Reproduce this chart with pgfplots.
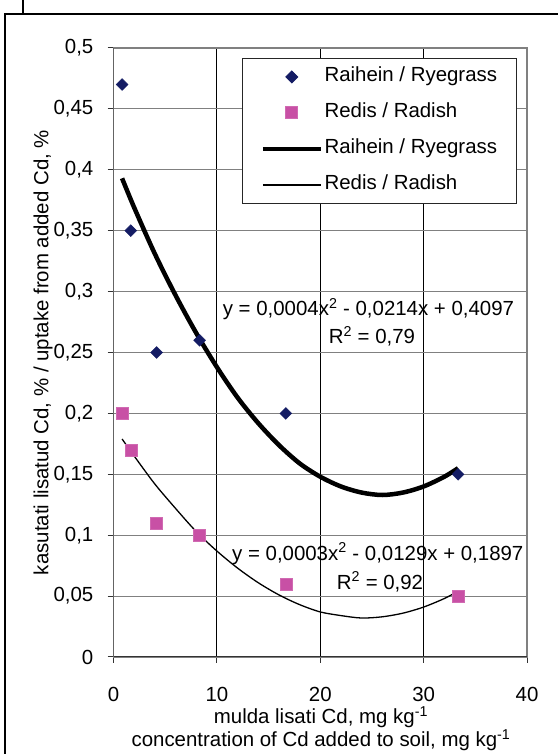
\documentclass[border=0pt]{standalone}
\usepackage{fontspec}
\setmainfont{Liberation Sans}
\usepackage{pgfplots}
\usepackage{pgfplotstable}
\pgfplotsset{compat=1.18}
\definecolor{cRye}{RGB}{20,28,100}
\definecolor{cRad}{RGB}{200,80,165}
\definecolor{cGrid}{RGB}{128,128,128}
\newcommand\ff{\fontsize{20.5}{23}\selectfont}
\pgfplotsset{wideleg/.style={legend image code/.code={%
  \draw[mark repeat=2,mark phase=2,##1] plot coordinates {(0bp,0bp) (29bp,0bp) (58bp,0bp)};}}}

% measured points
\pgfplotstableread{
x y
0.83 0.47
1.67 0.35
4.17 0.25
8.33 0.26
16.67 0.20
33.33 0.15
}\ryedata
\pgfplotstableread{
x y
0.83 0.20
1.67 0.17
4.17 0.11
8.33 0.10
16.67 0.06
33.33 0.05
}\raddata
% trend lines
\pgfplotstableread{
x y
0.83 0.393
2 0.369
4 0.331
6 0.297
8 0.266
10 0.238
12 0.213
14 0.192
16 0.174
18 0.159
20 0.148
22 0.140
24 0.135
26 0.133
28 0.135
30 0.140
32 0.148
33.33 0.155
}\ryetrend
\pgfplotstableread{
x y
0.83 0.179
2 0.165
4 0.142
6 0.122
8 0.103
10 0.087
12 0.073
14 0.061
16 0.051
18 0.043
20 0.037
22 0.034
24 0.032
26 0.033
28 0.036
30 0.041
32 0.048
33.33 0.054
}\radtrend

\begin{document}
\begin{tikzpicture}[x=1bp,y=1bp,font=\ff]
\useasboundingbox (0,0) rectangle (558,754);
\draw[line width=1.4bp] (5,0) -- (5,740) -- (558,740);
\draw[line width=1.4bp] (23,740) -- (23,754);
\begin{axis}[
  at={(113.5bp,97bp)}, anchor=south west,
  scale only axis, width=413.5bp, height=609bp,
  xmin=0, xmax=40, ymin=0, ymax=0.5,
  xtick={0,10,20,30,40},
  xticklabels={0,10,20,30,40},
  ytick={0,0.05,0.1,0.15,0.2,0.25,0.3,0.35,0.4,0.45,0.5},
  yticklabels={0,{0,05},{0,1},{0,15},{0,2},{0,25},{0,3},{0,35},{0,4},{0,45},{0,5}},
  scaled ticks=false,
  tick label style={font=\ff},
  xticklabel style={anchor=base, inner sep=0pt, yshift=-38bp},
  yticklabel style={anchor=east, inner sep=0pt, xshift=-14bp},
  tick align=outside, tick pos=left, major tick length=6bp,
  tick style={black!80, line width=1bp},
  axis line style={cGrid, line width=1.2bp},
  xmajorgrids, ymajorgrids,
  major x grid style={black, line width=0.9bp},
  major y grid style={cGrid, line width=1bp},
  legend style={at={(0.311,0.9836)}, anchor=north west, draw=black!85,
    line width=0.9bp, fill=white, inner xsep=18bp, inner ysep=8bp,
    row sep=15bp, column sep=0pt, font=\ff,
    nodes={inner sep=1.5bp, text height=14bp, text depth=4bp}},
  legend cell align=left,
]
\addplot[only marks, mark=square*, mark size=4.2bp, mark options={rotate=45, fill=cRye, draw=cRye}, wideleg]
  table[x=x,y=y] {\ryedata};
\addplot[only marks, mark=square*, mark size=6bp, mark options={fill=cRad, draw=cRad!85!white}, wideleg]
  table[x=x,y=y] {\raddata};
\addplot[black, line width=4.5bp, smooth, no marks, wideleg]
  table[x=x,y=y] {\ryetrend};
\addplot[black, line width=1.3bp, smooth, no marks, wideleg]
  table[x=x,y=y] {\radtrend};
\legend{Raihein / Ryegrass, Redis / Radish, Raihein / Ryegrass, Redis / Radish}
\draw[black!80, line width=1.2bp] (rel axis cs:0,1) -- (rel axis cs:0,0) -- (rel axis cs:1,0);
\node[anchor=base west, inner sep=0pt, font=\ff] at (axis cs:10.56,0.280) {y = 0,0004x\textsuperscript{2} - 0,0214x + 0,4097};
\node[anchor=base, inner sep=0pt, font=\ff] at (axis cs:25.0,0.257) {R\textsuperscript{2} = 0,79};
\node[anchor=base west, inner sep=0pt, font=\ff] at (axis cs:11.46,0.0796) {y = 0,0003x\textsuperscript{2} - 0,0129x + 0,1897};
\node[anchor=base, inner sep=0pt, font=\ff] at (axis cs:25.78,0.0558) {R\textsuperscript{2} = 0,92};
\end{axis}
\node[rotate=90, inner sep=0pt] at (43,401.5) {kasutati lisatud Cd, \% / uptake from added Cd, \%};
\node[anchor=base, inner sep=0pt] at (321,30) {mulda lisati Cd, mg kg\textsuperscript{-1}};
\node[anchor=base, inner sep=0pt] at (321,7) {concentration of Cd added to soil, mg kg\textsuperscript{-1}};
\end{tikzpicture}
\end{document}
